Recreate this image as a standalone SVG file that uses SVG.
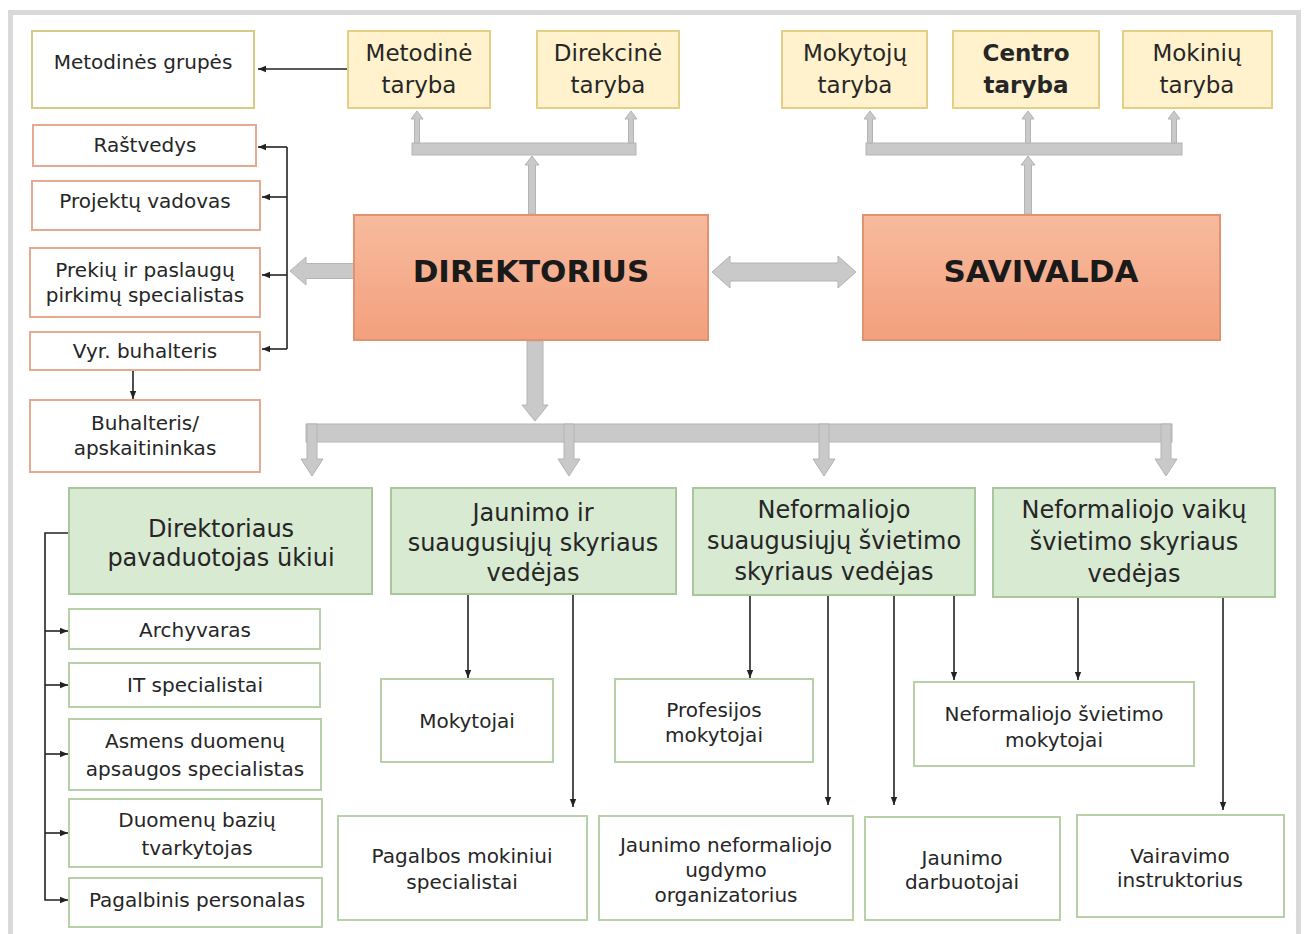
<svg xmlns="http://www.w3.org/2000/svg" width="1304" height="934" viewBox="0 0 1304 934">
<defs>
<linearGradient id="gSal" x1="0" y1="0" x2="0" y2="1">
<stop offset="0" stop-color="#f7bb9d"/>
<stop offset="1" stop-color="#f3a07e"/>
</linearGradient>
<marker id="ah" markerWidth="8" markerHeight="8" refX="8" refY="4" orient="auto" markerUnits="userSpaceOnUse">
<path d="M0,0.8 L8,4 L0,7.2 z" fill="#222"/>
</marker>
</defs>
<style>
text{font-family:"DejaVu Sans",Verdana,sans-serif;fill:#262626;text-anchor:middle}
.s{font-size:20px}
.h{font-size:24px}
.t{font-size:23px}
.big{font-size:31px;font-weight:bold;fill:#1a1a1a}
.b{font-weight:bold}
.yel{fill:#fff2cc;stroke:#e3cf86;stroke-width:2}
.yw{fill:#ffffff;stroke:#d6cb85;stroke-width:2}
.sal{fill:#ffffff;stroke:#e3ab91;stroke-width:2}
.main{fill:url(#gSal);stroke:#e09271;stroke-width:2}
.gh{fill:#d9ead3;stroke:#a9c79b;stroke-width:2}
.gw{fill:#ffffff;stroke:#b7d0a8;stroke-width:2}
.ga{fill:#c9c9c9;stroke:#b4b4b4;stroke-width:1}
.bl{fill:none;stroke:#222;stroke-width:1.6}
</style>
<rect x="10.5" y="12.5" width="1288" height="940" fill="#ffffff" stroke="#d9d9d9" stroke-width="5"/>

<g id="connectors">
<g id="grey-arrows">
<rect class="ga" x="412" y="143" width="224" height="12"/>
<polygon class="ga" points="417,111 423,119 419.5,119 419.5,143 414.5,143 414.5,119 411,119"/>
<polygon class="ga" points="631,111 637,119 633.5,119 633.5,143 628.5,143 628.5,119 625,119"/>
<polygon class="ga" points="532,156 539,165 535.5,165 535.5,214 528.5,214 528.5,165 525,165"/>
<rect class="ga" x="866" y="143" width="316" height="12"/>
<polygon class="ga" points="870,111 876,119 872.5,119 872.5,143 867.5,143 867.5,119 864,119"/>
<polygon class="ga" points="1028,111 1034,119 1030.5,119 1030.5,143 1025.5,143 1025.5,119 1022,119"/>
<polygon class="ga" points="1174,111 1180,119 1176.5,119 1176.5,143 1171.5,143 1171.5,119 1168,119"/>
<polygon class="ga" points="1028,156 1035,165 1031.5,165 1031.5,214 1024.5,214 1024.5,165 1021,165"/>
<polygon class="ga" points="290,271 306,257 306,263.5 354,263.5 354,278.5 306,278.5 306,285"/>
<polygon class="ga" points="712,272 730,256 730,263 838,263 838,256 856,272 838,288 838,281 730,281 730,288"/>
<polygon class="ga" points="527,341 543,341 543,405 548,405 535,421 522,405 527,405"/>
<rect class="ga" x="306" y="424" width="866" height="18"/>
<polygon class="ga" points="307,424 317,424 317,459 323,459 312,476 301,459 307,459"/>
<polygon class="ga" points="564,424 574,424 574,459 580,459 569,476 558,459 564,459"/>
<polygon class="ga" points="819,424 829,424 829,459 835,459 824,476 813,459 819,459"/>
<polygon class="ga" points="1161,424 1171,424 1171,459 1177,459 1166,476 1155,459 1161,459"/>
</g>
<g id="black-arrows">
<path class="bl" d="M347,69 H258" marker-end="url(#ah)"/>
<path class="bl" d="M287,147 V349"/>
<path class="bl" d="M287,147 H258" marker-end="url(#ah)"/>
<path class="bl" d="M287,197 H262" marker-end="url(#ah)"/>
<path class="bl" d="M287,275 H262" marker-end="url(#ah)"/>
<path class="bl" d="M287,349 H262" marker-end="url(#ah)"/>
<path class="bl" d="M133,370 V399" marker-end="url(#ah)"/>
<path class="bl" d="M69,533 H45 V900 H68" marker-end="url(#ah)"/>
<path class="bl" d="M45,631 H68" marker-end="url(#ah)"/>
<path class="bl" d="M45,685 H68" marker-end="url(#ah)"/>
<path class="bl" d="M45,754 H68" marker-end="url(#ah)"/>
<path class="bl" d="M45,833 H68" marker-end="url(#ah)"/>
<path class="bl" d="M468,595 V678" marker-end="url(#ah)"/>
<path class="bl" d="M573,595 V807" marker-end="url(#ah)"/>
<path class="bl" d="M750,596 V678" marker-end="url(#ah)"/>
<path class="bl" d="M828,596 V805" marker-end="url(#ah)"/>
<path class="bl" d="M894,596 V805" marker-end="url(#ah)"/>
<path class="bl" d="M954,596 V680" marker-end="url(#ah)"/>
<path class="bl" d="M1078,598 V680" marker-end="url(#ah)"/>
<path class="bl" d="M1223,598 V810" marker-end="url(#ah)"/>
</g>
</g>

<g id="metodines-grupes"><rect class="yw" x="32" y="31" width="222" height="77"/><text class="s" x="143" y="69">Metodinės grupės</text></g>
<g id="metodine-taryba"><rect class="yel" x="348" y="31" width="142" height="77"/><text class="t" x="419" y="61">Metodinė</text><text class="t" x="419" y="93">taryba</text></g>
<g id="direkcine-taryba"><rect class="yel" x="537" y="31" width="142" height="77"/><text class="t" x="608" y="61">Direkcinė</text><text class="t" x="608" y="93">taryba</text></g>
<g id="mokytoju-taryba"><rect class="yel" x="782" y="31" width="145" height="77"/><text class="t" x="855" y="61">Mokytojų</text><text class="t" x="855" y="93">taryba</text></g>
<g id="centro-taryba"><rect class="yel" x="953" y="31" width="146" height="77"/><text class="t b" x="1026" y="61">Centro</text><text class="t b" x="1026" y="93">taryba</text></g>
<g id="mokiniu-taryba"><rect class="yel" x="1123" y="31" width="149" height="77"/><text class="t" x="1197" y="61">Mokinių</text><text class="t" x="1197" y="93">taryba</text></g>

<g id="rastvedys"><rect class="sal" x="33" y="125" width="223" height="41"/><text class="s" x="145" y="152">Raštvedys</text></g>
<g id="projektu-vadovas"><rect class="sal" x="32" y="181" width="228" height="49"/><text class="s" x="145" y="208">Projektų vadovas</text></g>
<g id="prekiu-specialistas"><rect class="sal" x="30" y="248" width="230" height="69"/><text class="s" x="145" y="277">Prekių ir paslaugų</text><text class="s" x="145" y="302">pirkimų specialistas</text></g>
<g id="vyr-buhalteris"><rect class="sal" x="30" y="332" width="230" height="38"/><text class="s" x="145" y="358">Vyr. buhalteris</text></g>
<g id="buhalteris"><rect class="sal" x="30" y="400" width="230" height="72"/><text class="s" x="145" y="430">Buhalteris/</text><text class="s" x="145" y="455">apskaitininkas</text></g>

<g id="direktorius"><rect class="main" x="354" y="215" width="354" height="125"/><text class="big" x="531" y="282">DIREKTORIUS</text></g>
<g id="savivalda"><rect class="main" x="863" y="215" width="357" height="125"/><text class="big" x="1041" y="282">SAVIVALDA</text></g>

<g id="pavaduotojas"><rect class="gh" x="69" y="488" width="303" height="106"/><text class="h" x="221" y="537">Direktoriaus</text><text class="h" x="221" y="566">pavaduotojas ūkiui</text></g>
<g id="jaunimo-vedejas"><rect class="gh" x="391" y="488" width="285" height="106"/><text class="h" x="533" y="521">Jaunimo ir</text><text class="h" x="533" y="551">suaugusiųjų skyriaus</text><text class="h" x="533" y="581">vedėjas</text></g>
<g id="suaugusiuju-vedejas"><rect class="gh" x="693" y="488" width="282" height="107"/><text class="h" x="834" y="518">Neformaliojo</text><text class="h" x="834" y="549">suaugusiųjų švietimo</text><text class="h" x="834" y="580">skyriaus vedėjas</text></g>
<g id="vaiku-vedejas"><rect class="gh" x="993" y="488" width="282" height="109"/><text class="h" x="1134" y="518">Neformaliojo vaikų</text><text class="h" x="1134" y="550">švietimo skyriaus</text><text class="h" x="1134" y="582">vedėjas</text></g>

<g id="archyvaras"><rect class="gw" x="69" y="609" width="251" height="40"/><text class="s" x="195" y="637">Archyvaras</text></g>
<g id="it-specialistai"><rect class="gw" x="69" y="663" width="251" height="44"/><text class="s" x="195" y="692">IT specialistai</text></g>
<g id="duomenu-apsauga"><rect class="gw" x="69" y="719" width="252" height="71"/><text class="s" x="195" y="748">Asmens duomenų</text><text class="s" x="195" y="776">apsaugos specialistas</text></g>
<g id="duomenu-baziu"><rect class="gw" x="69" y="799" width="253" height="68"/><text class="s" x="197" y="827">Duomenų bazių</text><text class="s" x="197" y="855">tvarkytojas</text></g>
<g id="pagalbinis"><rect class="gw" x="69" y="878" width="253" height="49"/><text class="s" x="197" y="907">Pagalbinis personalas</text></g>

<g id="mokytojai"><rect class="gw" x="381" y="679" width="172" height="83"/><text class="s" x="467" y="728">Mokytojai</text></g>
<g id="profesijos-mokytojai"><rect class="gw" x="615" y="679" width="198" height="83"/><text class="s" x="714" y="717">Profesijos</text><text class="s" x="714" y="742">mokytojai</text></g>
<g id="nsv-mokytojai"><rect class="gw" x="914" y="682" width="280" height="84"/><text class="s" x="1054" y="721">Neformaliojo švietimo</text><text class="s" x="1054" y="747">mokytojai</text></g>
<g id="pagalbos"><rect class="gw" x="338" y="816" width="249" height="104"/><text class="s" x="462" y="863">Pagalbos mokiniui</text><text class="s" x="462" y="889">specialistai</text></g>
<g id="jaunimo-organizatorius"><rect class="gw" x="599" y="816" width="254" height="104"/><text class="s" x="726" y="852">Jaunimo neformaliojo</text><text class="s" x="726" y="877">ugdymo</text><text class="s" x="726" y="902">organizatorius</text></g>
<g id="jaunimo-darbuotojai"><rect class="gw" x="865" y="817" width="195" height="103"/><text class="s" x="962" y="865">Jaunimo</text><text class="s" x="962" y="889">darbuotojai</text></g>
<g id="vairavimo"><rect class="gw" x="1077" y="815" width="207" height="102"/><text class="s" x="1180" y="863">Vairavimo</text><text class="s" x="1180" y="887">instruktorius</text></g>
</svg>
